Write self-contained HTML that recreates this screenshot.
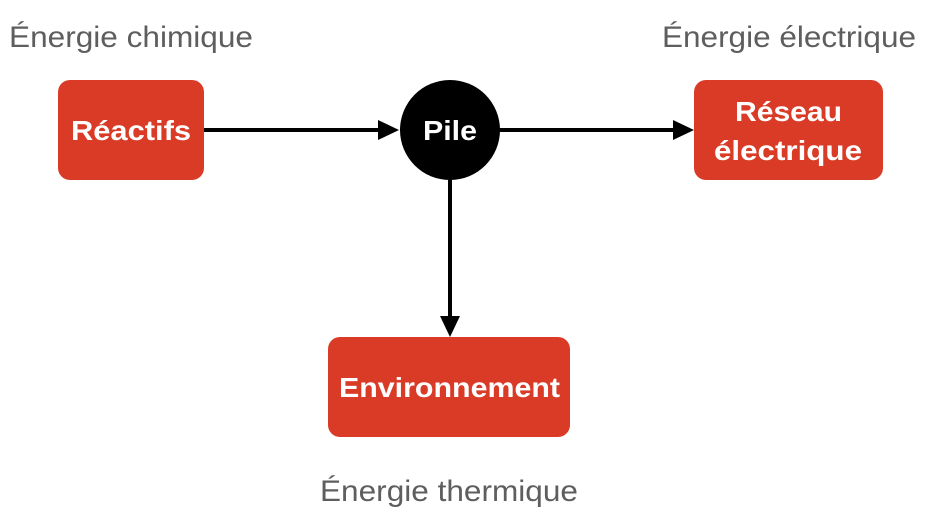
<!DOCTYPE html>
<html><head><meta charset="utf-8"><style>
body{margin:0;background:#fff;width:929px;height:522px;overflow:hidden}
</style></head><body>
<svg width="929" height="522" xmlns="http://www.w3.org/2000/svg" font-family="Liberation Sans, Arial, sans-serif">
<g fill="#5e5e5e" font-size="30">
<text x="9" y="47" textLength="244" lengthAdjust="spacingAndGlyphs">Énergie chimique</text>
<text x="662" y="47" textLength="254" lengthAdjust="spacingAndGlyphs">Énergie électrique</text>
<text x="320" y="501" textLength="258" lengthAdjust="spacingAndGlyphs">Énergie thermique</text>
</g>
<rect x="58" y="80" width="146" height="100" rx="12" fill="#d93b27"/>
<rect x="694" y="80" width="189" height="100" rx="12" fill="#d93b27"/>
<rect x="328" y="337" width="242" height="100" rx="12" fill="#d93b27"/>
<circle cx="450" cy="130" r="50" fill="#000"/>
<g stroke="#000" stroke-width="4">
<line x1="204" y1="130" x2="382" y2="130"/>
<line x1="499" y1="130" x2="676" y2="130"/>
<line x1="450" y1="180" x2="450" y2="320"/>
</g>
<polygon points="378,120 399,130 378,140" fill="#000"/>
<polygon points="673,120 694,130 673,140" fill="#000"/>
<polygon points="440,316 450,337 460,316" fill="#000"/>
<g fill="#fff" font-weight="bold" font-size="28">
<text x="71" y="140" textLength="120" lengthAdjust="spacingAndGlyphs">Réactifs</text>
<text x="423" y="140" textLength="54" lengthAdjust="spacingAndGlyphs">Pile</text>
<text x="735" y="121" textLength="107" lengthAdjust="spacingAndGlyphs">Réseau</text>
<text x="714" y="160" textLength="148" lengthAdjust="spacingAndGlyphs">électrique</text>
<text x="339" y="397" textLength="221" lengthAdjust="spacingAndGlyphs">Environnement</text>
</g>
</svg>
</body></html>
